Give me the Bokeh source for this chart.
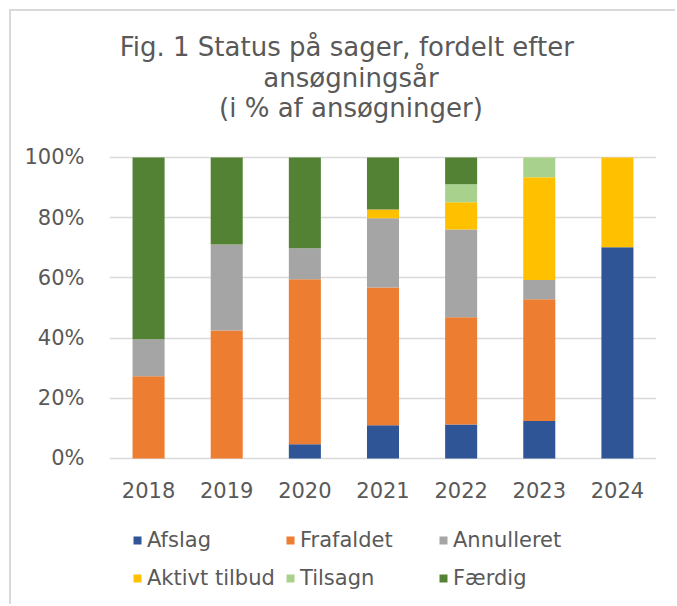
from bokeh.plotting import figure
from bokeh.models import ColumnDataSource, Legend, LegendItem, Range1d, FixedTicker, PrintfTickFormatter, Label
from bokeh.embed import file_html
from bokeh.resources import INLINE

years = ["2018", "2019", "2020", "2021", "2022", "2023", "2024"]
afslag = [0, 0, 4.7, 11.0, 11.3, 12.4, 70.2]
frafaldet = [27.3, 42.5, 54.8, 45.8, 35.6, 40.5, 0]
annulleret = [12.3, 28.6, 10.3, 23.0, 29.2, 6.4, 0]
aktivt_tilbud = [0, 0, 0, 2.9, 9.0, 34.1, 29.8]
tilsagn = [0, 0, 0, 0, 6.0, 6.6, 0]
faerdig = [60.4, 28.9, 30.2, 17.3, 8.9, 0, 0]

series_names = ["Afslag", "Frafaldet", "Annulleret", "Aktivt tilbud", "Tilsagn", "Færdig"]
series_keys = ["afslag", "frafaldet", "annulleret", "aktivt", "tilsagn", "faerdig"]
colors = ["#2F5597", "#ED7D31", "#A5A5A5", "#FFC000", "#A9D18E", "#548235"]
y_ticks = [0, 20, 40, 60, 80, 100]
title_lines = ["Fig. 1  Status på sager, fordelt efter", "ansøgningsår", "(i % af ansøgninger)"]

source = ColumnDataSource(data=dict(
    years=years, afslag=afslag, frafaldet=frafaldet, annulleret=annulleret,
    aktivt=aktivt_tilbud, tilsagn=tilsagn, faerdig=faerdig))

FONT = "DejaVu Sans"
TXT = "#595959"

# frame spans the full height: 3.01 px per percentage point
p = figure(x_range=years, width=666, height=595, output_backend="svg",
           toolbar_location=None, min_border_left=98, min_border_right=21,
           min_border_top=0, min_border_bottom=0)
p.styles = {"margin-left": "9px", "margin-top": "9px",
            "border-left": "2px solid #d9d9d9", "border-top": "2px solid #d9d9d9"}
p.y_range = Range1d(-49.2, 148.5)
p.outline_line_color = None

renderers = p.vbar_stack(series_keys, x="years", width=0.41, color=colors, source=source,
                         line_color=None)

# title lines (centered, stacked)
for line, ty in zip(title_lines, [136.6, 126.3, 116.3]):
    p.add_layout(Label(x=3.09, y=ty, text=line, text_align="center", text_baseline="middle",
                       text_font=FONT, text_font_size="26px", text_color=TXT))

p.yaxis.ticker = FixedTicker(ticks=y_ticks)
p.yaxis.formatter = PrintfTickFormatter(format="%d%%")
p.xaxis.fixed_location = 0
for ax in (p.xaxis, p.yaxis):
    ax.axis_line_color = None
    ax.major_tick_line_color = None
    ax.minor_tick_line_color = None
    ax.major_label_text_font = FONT
    ax.major_label_text_font_size = "21px"
    ax.major_label_text_color = TXT
p.yaxis.major_label_standoff = 19
p.xaxis.major_label_standoff = 18

p.xgrid.grid_line_color = None
p.ygrid.ticker = FixedTicker(ticks=y_ticks)
p.ygrid.grid_line_color = "#d9d9d9"
p.ygrid.grid_line_width = 1.5

items = [LegendItem(label=n, renderers=[r]) for n, r in zip(series_names, renderers)]
ordered = [items[0], items[3], items[1], items[4], items[2], items[5]]
legend = Legend(items=ordered, ncols=3, location=(23, 9),
                glyph_width=10, glyph_height=10, label_standoff=5,
                label_width=138, label_height=38, spacing=0, padding=0, margin=0,
                label_text_font=FONT, label_text_font_size="21px", label_text_color=TXT,
                border_line_color=None, background_fill_alpha=0)
p.add_layout(legend, "center")

open("out.html", "w").write(file_html(p, INLINE))
